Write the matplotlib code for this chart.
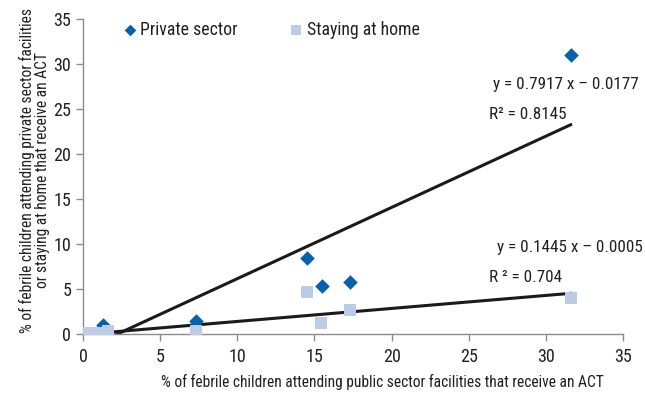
import matplotlib
matplotlib.use('Agg')
import numpy as np
import matplotlib.pyplot as plt

plt.rcParams['font.family'] = ['Roboto Condensed', 'DejaVu Sans']

# % of febrile children (public sector) vs private sector / staying at home
private_x = [0.2, 1.3, 7.3, 14.5, 15.5, 17.3, 31.6]
private_y = [0.0, 1.0, 1.4, 8.4, 5.3, 5.8, 31.0]
home_x = [0.2, 1.0, 1.6, 7.3, 14.5, 15.4, 17.3, 31.6]
home_y = [0.1, 0.1, 0.3, 0.3, 4.7, 1.2, 2.7, 4.0]

# trendline coefficients (data in fractions, so intercept scaled by 100)
private_fit = (0.7917, -0.0177)
home_fit = (0.1445, -0.0005)
private_r2 = 0.8145
home_r2 = 0.704

x_ticks = [0, 5, 10, 15, 20, 25, 30, 35]
y_ticks = [0, 5, 10, 15, 20, 25, 30, 35]

dark = '#231f20'
grey = '#8c8c8c'
blue = '#0461ae'
light = '#bccbe6'

fig = plt.figure(figsize=(6.45, 3.94), dpi=100)
ax = fig.add_axes([0.1287, 0.1523, 0.8373, 0.7995])

# trendlines over the data range
for xs, fit in [(private_x, private_fit), (home_x, home_fit)]:
    xx = np.array([min(xs), max(xs)])
    ax.plot(xx, fit[0] * xx + fit[1] * 100, color='#1a1a1a', lw=2.2, zorder=2)

ax.scatter(private_x, private_y, marker='D', s=55, color=blue, zorder=3,
           label='Private sector', linewidths=0)
ax.scatter(home_x, home_y, marker='s', s=70, color=light, zorder=4,
           label='Staying at home', linewidths=0)

ax.set_xlim(0, 35)
ax.set_ylim(0, 35)
ax.set_xticks(x_ticks)
ax.set_yticks(y_ticks)
for s in ['top', 'right']:
    ax.spines[s].set_visible(False)
for s in ['left', 'bottom']:
    ax.spines[s].set_color(grey)
    ax.spines[s].set_linewidth(1.0)
ax.tick_params(colors=grey, labelcolor=dark, labelsize=13, length=5, width=1,
               direction='out')
ax.tick_params(axis='x', pad=5)

ax.set_xlabel('% of febrile children attending public sector facilities that receive an ACT',
              fontsize=11.2, color=dark)
ax.xaxis.set_label_coords(0.554, -0.128)
ax.set_ylabel('% of febrile children attending private sector facilities\n'
              'or staying at home that receive an ACT',
              fontsize=11.2, color=dark, linespacing=1.0)
ax.yaxis.set_label_coords(-0.062, 0.52)

eq_font = 12.3
ax.text(26.6, 27.7, 'y = %.4f x \u2013 %.4f' % (private_fit[0], -private_fit[1]),
        fontsize=eq_font, color=dark, va='center', ha='left')
ax.text(26.3, 24.4, 'R\u00b2 = %.4f' % private_r2,
        fontsize=eq_font, color=dark, va='center', ha='left')
ax.text(26.8, 9.6, 'y = %.4f x \u2013 %.4f' % (home_fit[0], -home_fit[1]),
        fontsize=eq_font, color=dark, va='center', ha='left')
ax.text(26.3, 6.3, 'R \u00b2 = %.3f' % home_r2,
        fontsize=eq_font, color=dark, va='center', ha='left')

leg = ax.legend(loc='upper left', bbox_to_anchor=(0.04, 1.045), ncol=2, frameon=False,
                fontsize=12.8, handletextpad=0.1, columnspacing=2.8,
                handlelength=1.0, markerscale=0.8)
for t in leg.get_texts():
    t.set_color(dark)

fig.savefig('out.png', dpi=100)
